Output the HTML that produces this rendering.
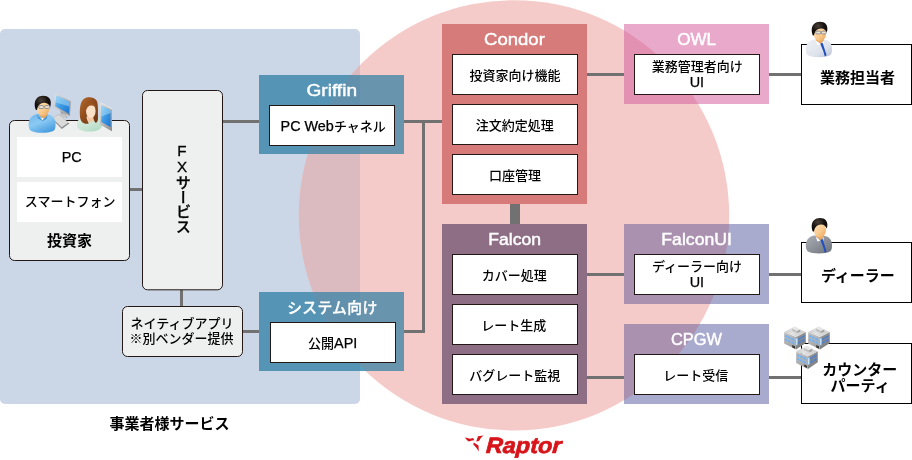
<!DOCTYPE html>
<html lang="ja"><head><meta charset="utf-8"><title>Raptor</title>
<style>html,body{margin:0;padding:0;background:#fff;}body{width:912px;height:460px;overflow:hidden;}svg{display:block;will-change:transform;}text{font-family:"Liberation Sans", "Noto Sans CJK JP", sans-serif;white-space:pre;}.t{font-size:13px;fill:#000;font-weight:500;}.t .l{font-size:14.4px;font-weight:400;stroke:#000;stroke-width:0.25px;}.h{font-size:16.8px;fill:#fff;stroke:#fff;stroke-width:0.45px;}.hj{font-size:14.8px;fill:#fff;font-weight:500;stroke:#fff;stroke-width:0.3px;}.b{font-size:15px;fill:#000;font-weight:bold;}.v{font-size:15.2px;fill:#000;font-weight:500;stroke:#000;stroke-width:0.3px;}.r{font-size:22.3px;font-weight:bold;font-style:italic;fill:#d7141a;stroke:#d7141a;stroke-width:0.7px;}</style></head><body>
<svg width="912" height="460" viewBox="0 0 912 460">
<defs>
<clipPath id="cc"><circle cx="514" cy="215.4" r="215.2"/></clipPath>
<clipPath id="cp"><rect x="0" y="29" width="360" height="375" rx="5"/></clipPath>

<linearGradient id="gSkin" x1="0" y1="0" x2="1" y2="1"><stop offset="0" stop-color="#fde3c0"/><stop offset="0.6" stop-color="#f8c889"/><stop offset="1" stop-color="#e9a35a"/></linearGradient>
<radialGradient id="gHair" cx="0.4" cy="0.3" r="0.8"><stop offset="0" stop-color="#4a4038"/><stop offset="0.5" stop-color="#17120f"/><stop offset="1" stop-color="#050404"/></radialGradient>
<linearGradient id="gBlue" x1="0" y1="0" x2="0.6" y2="1"><stop offset="0" stop-color="#6cb4ec"/><stop offset="0.5" stop-color="#8ccaf4"/><stop offset="1" stop-color="#4b9fe0"/></linearGradient>
<linearGradient id="gShirt" x1="0" y1="0" x2="1" y2="1"><stop offset="0" stop-color="#eef1f6"/><stop offset="0.6" stop-color="#dfe4ec"/><stop offset="1" stop-color="#b9c2d2"/></linearGradient>
<linearGradient id="gSuit" x1="0" y1="0" x2="1" y2="1"><stop offset="0" stop-color="#a9adb4"/><stop offset="0.5" stop-color="#8d9199"/><stop offset="1" stop-color="#6d7179"/></linearGradient>
<linearGradient id="gMint" x1="0" y1="0" x2="0.7" y2="1"><stop offset="0" stop-color="#d9efe2"/><stop offset="0.6" stop-color="#c9e6d5"/><stop offset="1" stop-color="#b3dcc6"/></linearGradient>
<linearGradient id="gBrown" x1="0" y1="0" x2="1" y2="1"><stop offset="0" stop-color="#b56a2c"/><stop offset="0.5" stop-color="#8e4a1c"/><stop offset="1" stop-color="#6b3514"/></linearGradient>
<linearGradient id="gScreen" x1="0" y1="0" x2="1" y2="1"><stop offset="0" stop-color="#8fd0f6"/><stop offset="0.45" stop-color="#3f9be4"/><stop offset="1" stop-color="#1c74d0"/></linearGradient>
<linearGradient id="gSilver" x1="0" y1="0" x2="1" y2="1"><stop offset="0" stop-color="#e8e8e8"/><stop offset="1" stop-color="#8a8a8a"/></linearGradient>
<linearGradient id="gBL" x1="0" y1="0" x2="0.3" y2="1"><stop offset="0" stop-color="#c4c4c4"/><stop offset="1" stop-color="#a4a4a4"/></linearGradient>
<linearGradient id="gBR" x1="0" y1="0" x2="0.3" y2="1"><stop offset="0" stop-color="#989898"/><stop offset="1" stop-color="#7e7e7e"/></linearGradient>
<linearGradient id="gBT" x1="0" y1="0" x2="1" y2="0.3"><stop offset="0" stop-color="#c6c6c6"/><stop offset="0.5" stop-color="#e2e2e2"/><stop offset="1" stop-color="#cfcfcf"/></linearGradient>
<g id="bld">
<polygon points="0.13,6.33 12.00,11.50 12.00,24.00 0.13,17.90" fill="url(#gBL)"/>
<polygon points="12.00,11.50 21.80,6.33 21.80,17.30 12.00,24.00" fill="url(#gBR)"/>
<polygon points="0.13,6.33 9.90,1.45 21.80,6.33 12.00,11.50" fill="url(#gBT)"/>
<polygon points="8.06,2.97 13.20,5.10 13.20,7.55 8.06,5.40" fill="#c2c2c2"/>
<polygon points="13.20,5.10 16.30,3.58 16.30,6.00 13.20,7.55" fill="#a2a2a2"/>
<polygon points="8.06,2.97 11.10,0.84 16.30,3.58 13.20,5.10" fill="#e6e6e6"/>
<polygon points="0.80,8.92 11.00,13.36 11.00,15.56 0.80,11.12" fill="#9fb4cf"/>
<polygon points="1.00,9.21 3.00,10.08 3.00,11.88 1.00,11.01" fill="#6fb0f2"/>
<polygon points="4.20,10.60 6.40,11.56 6.40,13.36 4.20,12.40" fill="#6fb0f2"/>
<polygon points="7.60,12.08 10.00,13.12 10.00,14.92 7.60,13.88" fill="#6fb0f2"/>
<polygon points="0.80,12.52 11.00,16.96 11.00,19.16 0.80,14.72" fill="#9fb4cf"/>
<polygon points="1.00,12.81 3.00,13.68 3.00,15.48 1.00,14.61" fill="#6fb0f2"/>
<polygon points="4.20,14.20 6.40,15.16 6.40,16.96 4.20,16.00" fill="#6fb0f2"/>
<polygon points="7.60,15.68 10.00,16.72 10.00,18.52 7.60,17.48" fill="#6fb0f2"/>
<polygon points="13.80,12.85 21.00,9.06 21.00,11.26 13.80,15.05" fill="#7286a8"/>
<polygon points="14.40,12.74 16.60,11.58 16.60,13.38 14.40,14.54" fill="#4d80c8"/>
<polygon points="17.60,11.05 20.40,9.57 20.40,11.37 17.60,12.85" fill="#4d80c8"/>
<polygon points="13.80,16.45 21.00,12.66 21.00,14.86 13.80,18.65" fill="#7286a8"/>
<polygon points="14.40,16.34 16.60,15.18 16.60,16.98 14.40,18.14" fill="#4d80c8"/>
<polygon points="17.60,14.65 20.40,13.17 20.40,14.97 17.60,16.45" fill="#4d80c8"/>
<polygon points="12.10,13.25 13.30,12.61 13.30,19.01 12.10,19.65" fill="#ffffff"/>
<polygon points="11.60,12.91 13.80,11.75 13.80,19.35 11.60,20.51" fill="#8fd0ff" fill-opacity="0.5"/>
<polygon points="8.20,19.44 11.00,20.66 11.00,23.06 8.20,21.84" fill="#3a3a3a"/>
</g>

</defs>
<rect x="0" y="29" width="360" height="375" rx="5" fill="#cbd6e6"/>
<circle cx="514" cy="215.4" r="215.2" fill="#f4cbc8"/>
<g clip-path="url(#cp)"><circle cx="514" cy="215.4" r="215.2" fill="#dcbbc0"/></g>
<rect x="130" y="188" width="12" height="3" fill="#727171"/>
<rect x="223" y="120" width="36" height="3" fill="#727171"/>
<rect x="180" y="290" width="3" height="16" fill="#727171"/>
<rect x="243" y="330" width="16" height="3" fill="#727171"/>
<rect x="404" y="120" width="38" height="3" fill="#727171"/>
<rect x="422" y="120" width="3" height="213" fill="#727171"/>
<rect x="404" y="330" width="21" height="3" fill="#727171"/>
<rect x="587" y="73" width="37" height="3" fill="#727171"/>
<rect x="769" y="73" width="32" height="3" fill="#727171"/>
<rect x="587" y="273" width="37" height="3" fill="#727171"/>
<rect x="769" y="273" width="32" height="3" fill="#727171"/>
<rect x="587" y="376" width="37" height="3" fill="#727171"/>
<rect x="769" y="376" width="32" height="3" fill="#727171"/>
<rect x="510" y="204" width="10" height="20" fill="#727171"/>
<rect x="9.5" y="120.5" width="120" height="140" rx="5" fill="#eef0f0" stroke="#231815" stroke-width="1"/>
<rect x="17" y="137" width="105" height="40" fill="#fff"/>
<rect x="17" y="182" width="105" height="40" fill="#fff"/>
<rect x="142.5" y="90.5" width="80" height="199.3" rx="5" fill="#eef0f0" stroke="#231815" stroke-width="1"/>
<rect x="122.5" y="306.5" width="120" height="50" rx="5" fill="#eef0f0" stroke="#231815" stroke-width="1"/>
<rect x="259" y="75" width="145" height="79" fill="#55a0c0"/>
<rect x="259" y="75" width="145" height="79" fill="#5594b5" clip-path="url(#cp)"/>
<rect x="259" y="75" width="145" height="79" fill="#6894ae" clip-path="url(#cc)"/>
<g clip-path="url(#cc)"><rect x="259" y="75" width="145" height="79" fill="#6190ad" clip-path="url(#cp)"/></g>
<rect x="269.5" y="105.5" width="125" height="40" fill="#fff" stroke="#231815" stroke-width="1"/>
<rect x="259" y="292" width="145" height="79" fill="#55a0c0"/>
<rect x="259" y="292" width="145" height="79" fill="#5594b5" clip-path="url(#cp)"/>
<rect x="259" y="292" width="145" height="79" fill="#6894ae" clip-path="url(#cc)"/>
<g clip-path="url(#cc)"><rect x="259" y="292" width="145" height="79" fill="#6190ad" clip-path="url(#cp)"/></g>
<rect x="270.5" y="322.5" width="125" height="40" fill="#fff" stroke="#231815" stroke-width="1"/>
<rect x="442" y="24" width="145" height="180" fill="#d67a7a"/>
<rect x="452.5" y="54.5" width="125" height="40" fill="#fff" stroke="#231815" stroke-width="1"/>
<rect x="452.5" y="104.5" width="125" height="40" fill="#fff" stroke="#231815" stroke-width="1"/>
<rect x="452.5" y="154.5" width="125" height="40" fill="#fff" stroke="#231815" stroke-width="1"/>
<rect x="442" y="224" width="145" height="180" fill="#8d6e85"/>
<rect x="452.5" y="254.5" width="125" height="40" fill="#fff" stroke="#231815" stroke-width="1"/>
<rect x="452.5" y="304.5" width="125" height="40" fill="#fff" stroke="#231815" stroke-width="1"/>
<rect x="452.5" y="354.5" width="125" height="40" fill="#fff" stroke="#231815" stroke-width="1"/>
<rect x="624" y="24" width="145" height="80" fill="#e9a9cb"/>
<rect x="624" y="24" width="145" height="80" fill="#e291b3" clip-path="url(#cc)"/>
<rect x="634.5" y="54.5" width="125" height="40" fill="#fff" stroke="#231815" stroke-width="1"/>
<rect x="624" y="224" width="145" height="80" fill="#a8abcd"/>
<rect x="624" y="224" width="145" height="80" fill="#aa91af" clip-path="url(#cc)"/>
<rect x="634.5" y="254.5" width="125" height="40" fill="#fff" stroke="#231815" stroke-width="1"/>
<rect x="624" y="324" width="145" height="80" fill="#a8abcd"/>
<rect x="624" y="324" width="145" height="80" fill="#aa91af" clip-path="url(#cc)"/>
<rect x="634.5" y="354.5" width="125" height="40" fill="#fff" stroke="#231815" stroke-width="1"/>
<rect x="801.5" y="44.5" width="110" height="60" fill="#fff" stroke="#000" stroke-width="1"/>
<rect x="801.5" y="242.5" width="110" height="60" fill="#fff" stroke="#000" stroke-width="1"/>
<rect x="801.5" y="343.5" width="110" height="60" fill="#fff" stroke="#000" stroke-width="1"/>
<text x="61.78" y="162.00" class="t"><tspan class="l">PC</tspan></text>
<text x="24.80" y="206.00" class="t">スマートフォン</text>
<text x="46.97" y="246.00" class="b">投資家</text>
<text x="181.98" y="141.81" class="v" style="writing-mode:vertical-rl;text-orientation:upright;letter-spacing:-0.60px">FXサービス</text>
<text x="130.60" y="328.00" class="t">ネイティブアプリ</text>
<text x="129.46" y="343.00" class="t">※別ベンダー提供</text>
<text transform="translate(306.46,96.00) scale(1.1362,1)" class="h">Griffin</text>
<text x="280.55" y="131.00" class="t"><tspan class="l">PC Web</tspan>チャネル</text>
<text x="287.15" y="313.00" class="hj" style="letter-spacing:0.34px">システム向け</text>
<text x="308.04" y="348.00" class="t">公開<tspan class="l">API</tspan></text>
<text transform="translate(484.11,45.00) scale(1.1028,1)" class="h">Condor</text>
<text x="469.43" y="80.00" class="t">投資家向け機能</text>
<text x="475.76" y="130.00" class="t">注文約定処理</text>
<text x="489.01" y="180.00" class="t">口座管理</text>
<text transform="translate(488.21,245.00) scale(1.0488,1)" class="h">Falcon</text>
<text x="481.80" y="280.00" class="t">カバー処理</text>
<text x="481.34" y="330.00" class="t">レート生成</text>
<text x="469.14" y="380.00" class="t">バグレート監視</text>
<text transform="translate(677.18,45.00) scale(1.0152,1)" class="h">OWL</text>
<text x="651.70" y="71.00" class="t">業務管理者向け</text>
<text x="689.70" y="87.00" class="t"><tspan class="l">UI</tspan></text>
<text transform="translate(661.32,245.00) scale(1.0504,1)" class="h">FalconUI</text>
<text x="652.01" y="271.00" class="t">ディーラー向け</text>
<text x="689.70" y="287.00" class="t"><tspan class="l">UI</tspan></text>
<text transform="translate(670.90,345.00) scale(0.9755,1)" class="h">CPGW</text>
<text x="663.30" y="380.00" class="t">レート受信</text>
<text x="820.12" y="83.00" class="b">業務担当者</text>
<text x="820.93" y="281.00" class="b">ディーラー</text>
<text x="822.13" y="375.00" class="b">カウンター</text>
<text x="830.58" y="391.00" class="b">パーティ</text>
<text x="109.48" y="429.00" class="b">事業者様サービス</text>
<text transform="translate(485.72,453.00) scale(1.0484,1) skewX(-3)" class="r">Raptor</text>
<g fill="#d7141a"><path d="M464.8,437.6 L467.4,438.1 L470,438.7 L473,438 L474.4,440.3 L472,440.6 L469,441.6 L467.3,440.4 Z"/><path d="M476.2,441.6 L478,436.3 L483.6,435.6 L481.2,437.5 L479,441.1 Z"/><path d="M473.8,442.4 L478.5,445.5 L478.8,451.6 L476.5,448 L473.2,444.3 Z"/></g>
<polygon points="51.6,118.8 58.6,114.2 69.4,123.4 61.8,129" fill="#8e8e8e"/><polygon points="52.2,118.2 58.6,114.4 68.4,122.6 61.8,127.2" fill="#dadada"/><polygon points="60.2,110.4 65.4,113.2 67.6,118.2 61.4,115.4" fill="#a4a4a4"/><polygon points="58.8,114.6 64,117.6 68.4,116.2 63.4,113.4" fill="#c4c4c4"/><polygon points="55.6,93.2 71,101.2 69.8,116 53.8,106.8" fill="url(#gSilver)"/><polygon points="56.6,95.2 69.8,102.2 68.8,113.8 55.2,106" fill="url(#gScreen)"/><polygon points="56.6,95.2 69.8,102.2 69.4,106.6 56,102.4" fill="#a6daf8" fill-opacity="0.55"/>
<g transform="translate(28.8,95.6) scale(1.03,1.045)"><path d="M8,17.6 C5.5,18.4 4,19 3,19.9 C0.8,22 -0.2,24.5 -0.2,27.4 C-0.2,30 0.3,32 1.5,33.4 C4,35 8,35.6 13,35.6 C18,35.6 22,35 24.5,33.4 C25.7,32 26,30 26,27.4 C26,24.5 25.2,22 23,19.9 C22,19 20.5,18.4 18,17.9 Z" fill="url(#gBlue)"/><path d="M7.6,18 L13.2,23.2 L18.2,18.2 L17.4,22.4 L13.4,24.4 L9,22 Z" fill="#4a98da"/><path d="M11.6,21.4 L15,21.4 L13.3,23.6 Z" fill="#fff"/><path d="M9.6,14 L17.6,14 L17.8,19 L14.6,22.2 L10,19 Z" fill="#eaa862"/><ellipse cx="13.9" cy="12.4" rx="6.1" ry="7" fill="url(#gSkin)"/><path d="M6.8,13.6 C5.2,10 5.2,5 8,2.4 C11,-0.6 17.5,-0.4 20,2.6 C21.8,4.8 21.6,8.2 20.8,10.8 C19.8,8.4 18,7 15.6,6.8 C13,6.6 10.8,7.8 9.4,9.8 C8.6,11 8.2,12.2 8,13.8 Z" fill="url(#gHair)"/><rect x="9.8" y="9.6" width="4.8" height="2.7" rx="1" fill="#e8eef2" fill-opacity="0.65" stroke="#7a8288" stroke-width="0.8"/><rect x="15.4" y="9.6" width="4.8" height="2.7" rx="1" fill="#e8eef2" fill-opacity="0.65" stroke="#7a8288" stroke-width="0.8"/></g>
<g transform="translate(76.8,96.8)"><path d="M0,28 C0,23 4,20.5 9,19.5 L17,19.5 C21.5,20.5 25.2,23 25.2,28.5 C25.2,32.6 19.5,34.8 12.6,34.8 C5.6,34.8 0,32.6 0,28 Z" fill="url(#gMint)"/><path d="M3.2,20 C2.6,12 3.4,4 7.6,1.6 C11,-0.4 17,-0.2 19.6,3.4 C21.6,6.4 21,14 21.2,20 C21.4,24 20.4,26 18.6,26 C17,24 16,21 15.6,19 L9.6,20 C10.2,23 11,25 12,26.6 C9.6,27.4 6.2,26.6 4.8,24.6 C3.6,23 3.4,21.6 3.2,20 Z" fill="url(#gBrown)"/><path d="M10.4,18 L16.4,18 L16.6,23 L14.4,26 L11.4,24.6 Z" fill="#f3c9a4"/><ellipse cx="14" cy="14.2" rx="4.8" ry="7" fill="#fbe0c8"/><path d="M8.6,9 C10,6.4 13,5.6 16,6.6 C18,7.4 19.4,9 19.6,12 C18.6,9.6 16.6,8.4 14.2,8.6 C12,8.8 10.2,10 9.6,13 Z" fill="#9a5522"/></g>
<polygon points="99.8,102.2 112,109 112,131.2 99.8,124.6" fill="url(#gSilver)"/><polygon points="100.2,102.6 101.2,102.4 112,108.6 112,109.6" fill="#efefef"/><polygon points="101.2,105.2 110.6,110.4 110.6,127 101.2,122" fill="url(#gScreen)"/><polygon points="101.2,105.2 110.6,110.4 110.6,113 101.2,116.6" fill="#a6daf8" fill-opacity="0.55"/>
<g transform="translate(806,21.6) scale(1,1)"><path d="M8,17.6 C5.5,18.4 4,19 3,19.9 C0.8,22 -0.2,24.5 -0.2,27.4 C-0.2,30 0.3,32 1.5,33.4 C4,35 8,35.6 13,35.6 C18,35.6 22,35 24.5,33.4 C25.7,32 26,30 26,27.4 C26,24.5 25.2,22 23,19.9 C22,19 20.5,18.4 18,17.9 Z" fill="url(#gShirt)"/><path d="M9.6,18.2 L14.8,23.4 L18,18.6 L16.8,24.6 L14.6,22.6 L11.4,23.6 Z" fill="#ffffff"/><path d="M14.2,21.8 L16.6,21.2 L20.6,33.6 L18.8,35 L17.4,30 Z" fill="#1f4fc0"/><path d="M9.6,14 L17.6,14 L17.8,19 L14.6,22.2 L10,19 Z" fill="#eaa862"/><ellipse cx="13.9" cy="12.4" rx="6.1" ry="7" fill="url(#gSkin)"/><path d="M6.8,13.6 C5.2,10 5.2,5 8,2.4 C11,-0.6 17.5,-0.4 20,2.6 C21.8,4.8 21.6,8.2 20.8,10.8 C19.8,8.4 18,7 15.6,6.8 C13,6.6 10.8,7.8 9.4,9.8 C8.6,11 8.2,12.2 8,13.8 Z" fill="url(#gHair)"/><rect x="9.8" y="9.6" width="4.8" height="2.7" rx="1" fill="#e8eef2" fill-opacity="0.65" stroke="#7a8288" stroke-width="0.8"/><rect x="15.4" y="9.6" width="4.8" height="2.7" rx="1" fill="#e8eef2" fill-opacity="0.65" stroke="#7a8288" stroke-width="0.8"/></g>
<g transform="translate(806,217.8) scale(1,1)"><path d="M8,17.6 C5.5,18.4 4,19 3,19.9 C0.8,22 -0.2,24.5 -0.2,27.4 C-0.2,30 0.3,32 1.5,33.4 C4,35 8,35.6 13,35.6 C18,35.6 22,35 24.5,33.4 C25.7,32 26,30 26,27.4 C26,24.5 25.2,22 23,19.9 C22,19 20.5,18.4 18,17.9 Z" fill="url(#gSuit)"/><path d="M9.6,18.2 L14.8,23.4 L18,18.6 L16.8,24.6 L14.6,22.6 L11.4,23.6 Z" fill="#ffffff"/><path d="M14.2,21.8 L16.6,21.2 L20.6,33.6 L18.8,35 L17.4,30 Z" fill="#1f4fc0"/><path d="M9.6,14 L17.6,14 L17.8,19 L14.6,22.2 L10,19 Z" fill="#eaa862"/><ellipse cx="13.9" cy="12.4" rx="6.1" ry="7" fill="url(#gSkin)"/><path d="M6.8,13.6 C5.2,10 5.2,5 8,2.4 C11,-0.6 17.5,-0.4 20,2.6 C21.8,4.8 21.6,8.2 20.8,10.8 C19.8,8.4 18,7 15.6,6.8 C13,6.6 10.8,7.8 9.4,9.8 C8.6,11 8.2,12.2 8,13.8 Z" fill="url(#gHair)"/></g>
<use href="#bld" x="784" y="325.6"/><use href="#bld" x="808" y="325.6"/><use href="#bld" x="796" y="345"/>
</svg>
</body></html>
